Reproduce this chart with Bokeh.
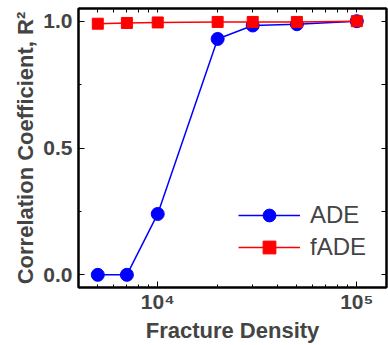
from bokeh.plotting import figure
from bokeh.models import LogAxis, LinearAxis, Legend, LegendItem, FixedTicker
from bokeh.embed import file_html
from bokeh.resources import INLINE

density = [5000, 7000, 10000, 20000, 30000, 50000, 100000]
ade = [0.0, 0.0, 0.24, 0.93, 0.983, 0.988, 1.0]
fade = [0.99, 0.993, 0.995, 0.997, 0.997, 0.997, 1.0]
x_major = [10000, 100000]
x_minor = [5000, 6000, 7000, 8000, 9000, 20000, 30000, 40000, 50000, 60000,
           70000, 80000, 90000]
x_tick_labels = {10000: "10⁴", 100000: "10⁵"}
y_ticks = [0.0, 0.5, 1.0]
y_minor = [0.25, 0.75]

FONT = "Liberation Sans"

p = figure(width=388, height=345, x_axis_type="log", output_backend="svg",
           toolbar_location=None, x_range=(4000, 141000), y_range=(-0.05, 1.05),
           min_border_left=78, min_border_top=8, min_border_right=2, min_border_bottom=58)
p.grid.visible = False
p.outline_line_color = "black"
p.outline_line_width = 2
p.background_fill_color = "white"

l1 = p.line(density, ade, color="#0000FF", line_width=1.5)
c1 = p.scatter(density, ade, marker="circle", size=13, color="#0000FF")
l2 = p.line(density, fade, color="#FF0000", line_width=1.5)
s2 = p.scatter(density, fade, marker="square", size=11, color="#FF0000")

def style(ax):
    ax.axis_line_width = 2
    ax.axis_line_color = "black"
    ax.major_tick_in = 6
    ax.major_tick_out = 0
    ax.minor_tick_in = 3
    ax.minor_tick_out = 0
    ax.major_tick_line_width = 1
    ax.minor_tick_line_width = 1
    ax.major_label_text_font = FONT
    ax.major_label_text_font_style = "bold"
    ax.major_label_text_font_size = "21px"
    ax.axis_label_text_font = FONT
    ax.axis_label_text_font_style = "bold"
    ax.axis_label_text_font_size = "22px"

xa = p.xaxis[0]
style(xa)
xa.ticker = FixedTicker(ticks=x_major, minor_ticks=x_minor)
xa.major_label_overrides = x_tick_labels
xa.axis_label = "Fracture Density"
xa.major_label_standoff = 2
xa.axis_label_standoff = 2

ya = p.yaxis[0]
style(ya)
ya.ticker = FixedTicker(ticks=y_ticks, minor_ticks=y_minor)
ya.major_label_overrides = {0.0: "0.0", 0.5: "0.5", 1.0: "1.0"}
ya.axis_label = "Correlation Coefficient, R²"
ya.major_label_standoff = 6
ya.axis_label_standoff = 2

# mirror axes: all ticks drawn as unlabeled minor ticks
top = LogAxis(ticker=FixedTicker(ticks=[], minor_ticks=x_major + x_minor))
style(top)
top.minor_tick_in = 4
top.major_label_standoff = 0
p.add_layout(top, "above")

right = LinearAxis(ticker=FixedTicker(ticks=[], minor_ticks=y_ticks + y_minor))
style(right)
right.minor_tick_in = 5
right.major_label_standoff = 0
p.add_layout(right, "right")

legend = Legend(items=[LegendItem(label="ADE", renderers=[l1, c1]),
                       LegendItem(label="fADE", renderers=[l2, s2])],
                location=(160, 24), border_line_color=None, background_fill_alpha=0,
                glyph_width=62, glyph_height=32, spacing=0, padding=0, margin=0,
                label_standoff=10, label_text_font=FONT, label_text_font_size="24px",
                label_height=32)
p.add_layout(legend, "center")

open("out.html", "w").write(file_html(p, INLINE))
